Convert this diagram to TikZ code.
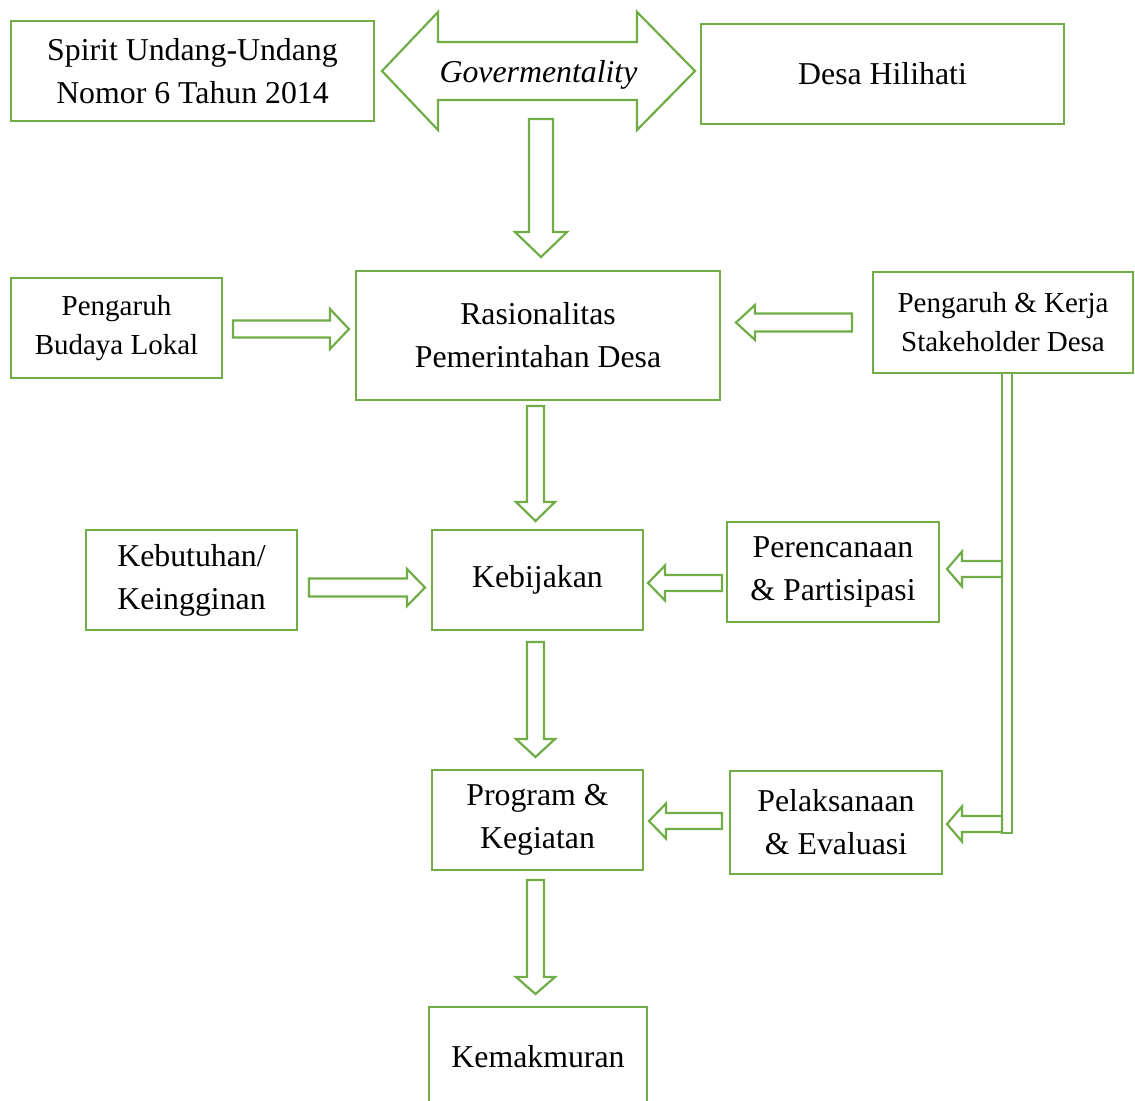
\documentclass[tikz,border=0pt]{standalone}
\usepackage{fontspec}
\setmainfont{Liberation Serif}
\usetikzlibrary{calc}
\definecolor{grn}{HTML}{70AD47}
\tikzset{
  boxsty/.style={draw=grn, line width=1.3pt, fill=white, inner sep=0pt, outer sep=0pt, align=center},
  bigtxt/.style={font=\fontsize{15.9pt}{21.5pt}\selectfont},
  smalltxt/.style={font=\fontsize{14.5pt}{19.5pt}\selectfont},
  arrowline/.style={draw=grn, line width=1.1pt, line join=miter, fill=white},
}
% block arrow: start, end, shaft half width, head half width, head length
\newcommand{\blockarrow}[5]{%
  \coordinate (ba-c) at ($(#2)!#5!(#1)$);
  \draw[arrowline] ($(#1)!#3!90:(#2)$) -- ($(ba-c)!#3!90:(#2)$) -- ($(ba-c)!#4!90:(#2)$) -- (#2)
     -- ($(ba-c)!#4!-90:(#2)$) -- ($(ba-c)!#3!-90:(#2)$) -- ($(#1)!#3!-90:(#2)$) -- cycle;}
\begin{document}
\begin{tikzpicture}[x={(0.5pt,0)}, y={(0,-0.5pt)}]
\useasboundingbox (0,0) rectangle (1135,1100);
\fill[white] (0,0) rectangle (1135,1100);
\clip (0,0) rectangle (1135,1100);

% boxes
\node[boxsty, bigtxt, minimum width=181.5pt, minimum height=50pt] (spirit) at (192.5,71) {Spirit Undang-Undang\\Nomor 6 Tahun 2014};
\node[boxsty, bigtxt, minimum width=181.5pt, minimum height=50pt] (desa) at (882.5,74) {Desa Hilihati};
\node[boxsty, smalltxt, minimum width=105.5pt, minimum height=50pt] (budaya) at (116.5,328) {Pengaruh\\Budaya Lokal};
\node[boxsty, bigtxt, minimum width=182pt, minimum height=64.5pt] (rasional) at (538,335.5) {Rasionalitas\\Pemerintahan Desa};
\node[boxsty, smalltxt, minimum width=130pt, minimum height=50.5pt] (stake) at (1003,322.5) {Pengaruh \& Kerja\\Stakeholder Desa};
\node[boxsty, bigtxt, minimum width=105.5pt, minimum height=50pt] (kebutuhan) at (191.5,580) {Kebutuhan/\\Keingginan};
\node[boxsty, bigtxt, minimum width=105.5pt, minimum height=50pt] (kebijakan) at (537.5,580) {Kebijakan};
\node[boxsty, bigtxt, minimum width=106pt, minimum height=50pt] (rencana) at (833,572) {Perencanaan\\\& Partisipasi};
\node[boxsty, bigtxt, minimum width=105.5pt, minimum height=50pt] (program) at (537.5,820) {Program \&\\Kegiatan};
\node[boxsty, bigtxt, minimum width=106pt, minimum height=51.5pt] (laksana) at (836,822.5) {Pelaksanaan\\\& Evaluasi};
\node[boxsty, bigtxt, minimum width=109pt, minimum height=49.5pt] (makmur) at (538,1056.5) {Kemakmuran};

% double arrow Govermentality
\coordinate (gov) at (538.5,71);
\draw[arrowline] ($(gov)+(-156.5,0)$) -- ($(gov)+(-100.5,-59)$) -- ($(gov)+(-100.5,-29)$)
  -- ($(gov)+(98.5,-29)$) -- ($(gov)+(98.5,-59)$) -- ($(gov)+(156.5,0)$)
  -- ($(gov)+(98.5,59)$) -- ($(gov)+(98.5,29)$) -- ($(gov)+(-100.5,29)$)
  -- ($(gov)+(-100.5,59)$) -- cycle;
\node[bigtxt, inner sep=0pt] (govtxt) at ($(gov)+(0,4)$) {\itshape Govermentality};

% down arrows
\coordinate (d1s) at ($(gov)+(2.5,48)$);
\coordinate (d1e) at ($(rasional.north)+(3,-14)$);
\blockarrow{d1s}{d1e}{6pt}{13pt}{12.5pt}

\coordinate (d2s) at ($(rasional.south)+(-2.5,6)$);
\coordinate (d2e) at ($(kebijakan.north)+(-2,-9)$);
\blockarrow{d2s}{d2e}{4.25pt}{9.75pt}{9.5pt}

\coordinate (d3s) at ($(kebijakan.south)+(-2,12)$);
\coordinate (d3e) at ($(program.north)+(-2,-13)$);
\blockarrow{d3s}{d3e}{4.25pt}{9.75pt}{9pt}

\coordinate (d4s) at ($(program.south)+(-2,10)$);
\coordinate (d4e) at ($(makmur.north)+(-2.5,-13)$);
\blockarrow{d4s}{d4e}{4.25pt}{9.75pt}{8.5pt}

% horizontal arrows
\coordinate (h1s) at ($(budaya.east)+(11,1)$);
\coordinate (h1e) at ($(budaya.east -| rasional.west)+(-7,1)$);
\blockarrow{h1s}{h1e}{4.25pt}{10pt}{9.5pt}

\coordinate (h2s) at ($(stake.west)+(-21,0)$);
\coordinate (h2e) at ($(stake.west -| rasional.east)+(16,0)$);
\blockarrow{h2s}{h2e}{4.5pt}{8.75pt}{9.5pt}

\coordinate (h3s) at ($(kebutuhan.east)+(12,7.5)$);
\coordinate (h3e) at ($(kebutuhan.east -| kebijakan.west)+(-7,7.5)$);
\blockarrow{h3s}{h3e}{4.5pt}{9.25pt}{9pt}

\coordinate (h4s) at ($(rencana.west)+(-5,11)$);
\coordinate (h4e) at ($(kebijakan.east)+(5,3)$);
\blockarrow{h4s}{h4e}{4pt}{8.75pt}{8.5pt}

\coordinate (h5s) at ($(laksana.west)+(-8,-1.5)$);
\coordinate (h5e) at ($(program.east)+(6,1)$);
\blockarrow{h5s}{h5e}{4pt}{8.75pt}{8.5pt}

% stakeholder bar and branches
\coordinate (bartop) at ($(stake.south)+(-1,0)$);
\coordinate (barbot) at ($(stake.south)+(9,460)$);
\draw[arrowline] (bartop) rectangle (barbot);

\coordinate (b1e) at ($(rencana.east)+(8,-3)$);
\coordinate (b1s) at (bartop |- b1e);
\blockarrow{b1s}{b1e}{4pt}{8.75pt}{7.5pt}

\coordinate (b2e) at ($(laksana.east)+(5,1.5)$);
\coordinate (b2s) at (bartop |- b2e);
\blockarrow{b2s}{b2e}{4pt}{8.75pt}{7.5pt}
\end{tikzpicture}
\end{document}
